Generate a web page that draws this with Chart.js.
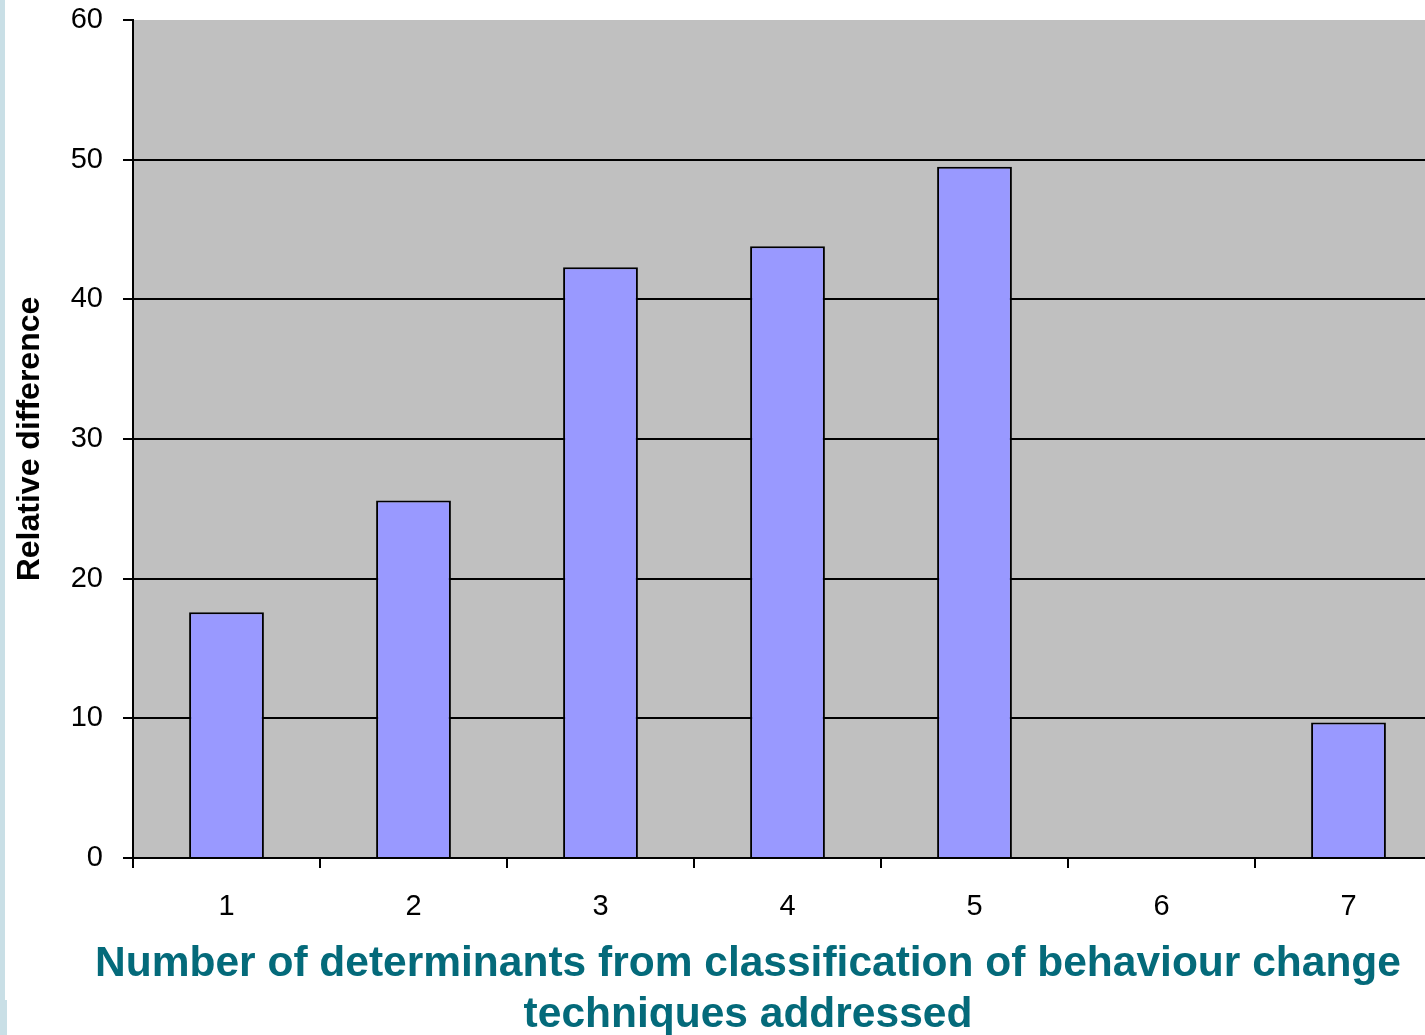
<!DOCTYPE html>
<html>
<head>
<meta charset="utf-8">
<script src="https://cdn.jsdelivr.net/npm/chart.js@4.4.1/dist/chart.umd.min.js"></script>
<style>
  html, body { margin: 0; padding: 0; background: #fff; overflow: hidden; }
  #wrap { position: absolute; left: 0; top: 0; width: 1496px; height: 1041px; }
  .edge { position: absolute; left: 0; background: #c9dfe6; }
</style>
</head>
<body>
<div id="wrap"><canvas id="chart"></canvas></div>
<div class="edge" style="top:0;width:5px;height:1000px"></div>
<div class="edge" style="top:1000px;width:7px;height:35px"></div>
<script>
// Number of determinants addressed, and the relative difference for each
const categories = ['1', '2', '3', '4', '5', '6', '7'];
const relativeDifference = [17.6, 25.6, 42.3, 43.8, 49.5, 0, 9.7];
const yTickValues = [0, 10, 20, 30, 40, 50, 60];
const xTitleLines = [
  'Number of determinants from classification of behaviour change',
  'techniques addressed'
];
const yTitleText = 'Relative difference';

const FONT = '"Liberation Sans", Arial, Helvetica, sans-serif';

// Grey fill behind the plotting area
const plotBackground = {
  id: 'plotBackground',
  beforeDraw(chart) {
    const { ctx, chartArea: a } = chart;
    ctx.save();
    ctx.fillStyle = '#c0c0c0';
    ctx.fillRect(a.left, a.top, a.right - a.left, a.bottom - a.top);
    ctx.restore();
  }
};

new Chart(document.getElementById('chart'), {
  type: 'bar',
  data: {
    labels: categories,
    datasets: [{
      data: relativeDifference,
      backgroundColor: '#9999ff',
      borderColor: '#000000',
      borderWidth: 2,
      barPercentage: 0.4,
      categoryPercentage: 1.0
    }]
  },
  options: {
    responsive: true,
    maintainAspectRatio: false,
    animation: false,
    layout: { padding: { top: 3, left: 0, right: 0, bottom: 0 } },
    plugins: {
      legend: { display: false },
      tooltip: { enabled: false },
      title: {
        display: true,
        position: 'bottom',
        text: xTitleLines,
        color: '#046a7a',
        font: { family: FONT, size: 42.5, weight: 'bold', lineHeight: 1.2 },
        padding: { top: 16, bottom: 0 }
      }
    },
    scales: {
      x: {
        afterFit(scale) { scale.height = 65; },
        grid: {
          offset: true,
          drawOnChartArea: false,
          drawTicks: true,
          tickLength: 10,
          color: '#000000',
          lineWidth: 2
        },
        border: { display: true, color: '#000000', width: 2 },
        ticks: {
          color: '#000000',
          padding: 22,
          font: { family: FONT, size: 29 }
        }
      },
      y: {
        min: 0,
        max: 60,
        afterBuildTicks(scale) {
          scale.ticks = yTickValues.map(v => ({ value: v }));
        },
        afterFit(scale) {
          scale.width = 133;
          scale.paddingTop = 20;
          scale.paddingBottom = 0;
        },
        grid: {
          color: ctx => (ctx.tick && ctx.tick.value === 60) ? 'rgba(0,0,0,0)' : '#000000',
          tickColor: '#000000',
          lineWidth: 2,
          tickLength: 10
        },
        border: { display: true, color: '#000000', width: 2 },
        ticks: {
          color: '#000000',
          padding: 20,
          font: { family: FONT, size: 29 }
        },
        title: {
          display: true,
          text: yTitleText,
          color: '#000000',
          font: { family: FONT, size: 32, weight: 'bold', lineHeight: 1.2 },
          padding: { top: 11, bottom: 0 }
        }
      },
      spacer: {
        type: 'linear',
        position: 'right',
        display: true,
        afterFit(scale) {
          scale.width = 54;
          scale.paddingTop = 0;
          scale.paddingBottom = 0;
        },
        grid: { display: false, drawTicks: false },
        border: { display: false },
        ticks: { display: false }
      }
    }
  },
  plugins: [plotBackground]
});
</script>
</body>
</html>
